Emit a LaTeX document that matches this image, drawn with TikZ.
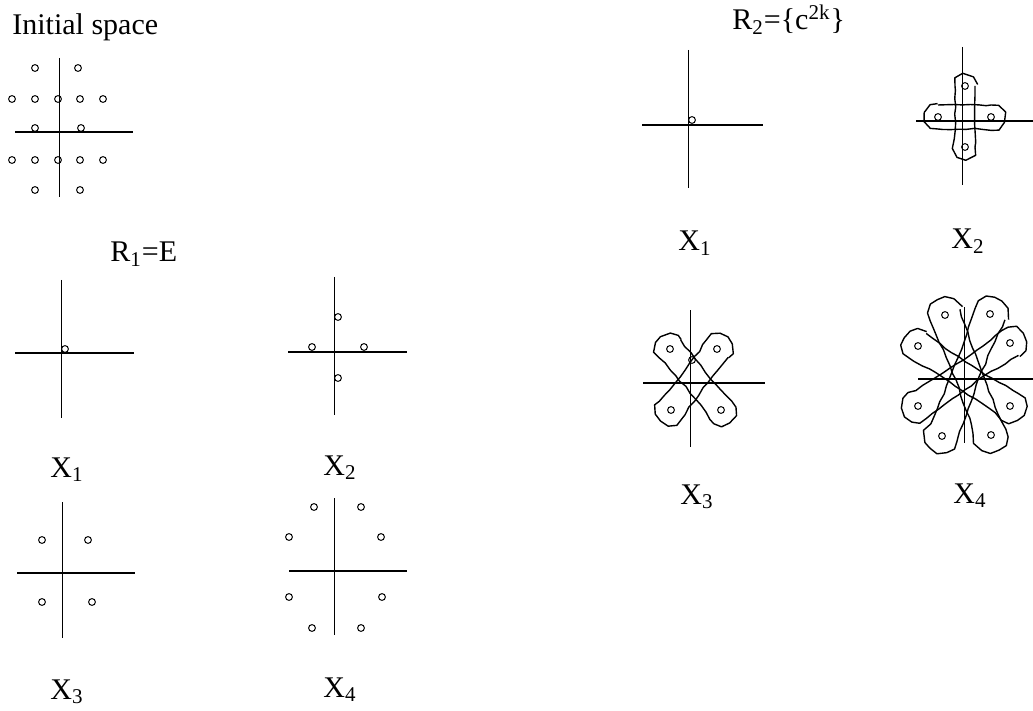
\documentclass[tikz,border=0pt]{standalone}
\usepackage{fontspec}
\setmainfont{Liberation Serif}
\usetikzlibrary{calc,decorations.pathmorphing}

% loop drawn round two orbit points: ends of radius #3, waist #4
\newcommand\orbitloop[4]{%
  \pgfmathsetlengthmacro\loopc{(4*#4-#3)/3}
  \coordinate (q1) at ($(#1)!1/3!(#2)$);
  \coordinate (q2) at ($(#1)!2/3!(#2)$);
  \coordinate (u1) at ($(#1)!#3!90:(#2)$);
  \coordinate (v1) at ($(#1)!#3!-90:(#2)$);
  \coordinate (u2) at ($(#2)!#3!-90:(#1)$);
  \coordinate (v2) at ($(#2)!#3!90:(#1)$);
  \draw[loopline] (u1)
    .. controls ($(q1)!\loopc!90:(#2)$) and ($(q2)!\loopc!90:(#2)$) .. (u2)
    .. controls ($(u2)!-1.33*#3!(u1)$) and ($(v2)!-1.33*#3!(v1)$) .. (v2)
    .. controls ($(q2)!\loopc!-90:(#2)$) and ($(q1)!\loopc!-90:(#2)$) .. (v1)
    .. controls ($(v1)!-1.33*#3!(v2)$) and ($(u1)!-1.33*#3!(u2)$) .. (u1);}

\begin{document}
\pgfmathsetseed{11}
\begin{tikzpicture}[x=0.5pt,y=-0.5pt,
    haxis/.style={line width=0.75pt},
    vaxis/.style={line width=0.5pt},
    dot/.style={circle,draw,line width=0.5pt,inner sep=0pt,minimum size=3.4pt},
    loopline/.style={line width=0.7pt,line join=round,decorate,
      decoration={random steps,segment length=4pt,amplitude=0.45pt}},
    lbl/.style={font=\fontsize{15}{18}\selectfont,inner sep=0pt}
  ]
  \useasboundingbox (0,0) rectangle (1033,711);

  % initial space
  \node[lbl,anchor=base west] (init) at (12,35) {Initial space};
  \draw[haxis] (15,132) -- (133,132);
  \draw[vaxis] (59,58) -- (59,197);
  \foreach \p [count=\i] in {(35,68),(78,68),(12,99),(35,99),(58,99),(80,99),(103,99),
      (35,128),(81,128),(12,160),(35,160),(58,160),(80,160),(103,160),(35,190),(80,190)}
    \node[dot] (s\i) at \p {};

  % R1 = E
  \node[lbl,anchor=base west] (r1) at (110,262) {R\textsubscript{1}=E};
  \draw[haxis] (15,353) -- (134,353);
  \draw[vaxis] (61,280) -- (61,418);
  \node[dot] (a1-1) at (65,349) {};
  \node[lbl,anchor=base] (a1lbl) at (67,477) {X\textsubscript{1}};

  \draw[haxis] (288,352) -- (407,352);
  \draw[vaxis] (334,277) -- (334,415);
  \foreach \p [count=\i] in {(338,317),(312,347),(364,347),(338,378)}
    \node[dot] (a2-\i) at \p {};
  \node[lbl,anchor=base] (a2lbl) at (340,475) {X\textsubscript{2}};

  \draw[haxis] (17,573) -- (135,573);
  \draw[vaxis] (62,502) -- (62,638);
  \foreach \p [count=\i] in {(42,540),(88,540),(42,602),(92,602)}
    \node[dot] (a3-\i) at \p {};
  \node[lbl,anchor=base] (a3lbl) at (67,699) {X\textsubscript{3}};

  \draw[haxis] (289,571) -- (407,571);
  \draw[vaxis] (334,498) -- (334,635);
  \foreach \p [count=\i] in {(314,507),(361,507),(289,537),(381,537),
      (289,597),(382,597),(312,628),(361,628)}
    \node[dot] (a4-\i) at \p {};
  \node[lbl,anchor=base] (a4lbl) at (340,697) {X\textsubscript{4}};

  % R2 = {c^2k}
  \node[lbl,anchor=base west] (r2) at (732,30) {R\textsubscript{2}=\{c\textsuperscript{2k}\}};
  \draw[haxis] (642,125) -- (763,125);
  \draw[vaxis] (688,50) -- (688,188);
  \node[dot] (b1-1) at (692,120) {};
  \node[lbl,anchor=base] (b1lbl) at (695,251) {X\textsubscript{1}};

  \draw[haxis] (916,121) -- (1033,121);
  \draw[vaxis] (962,47) -- (962,185);
  \foreach \p [count=\i] in {(965,86),(938,117),(991,117),(965,147)}
    \node[dot] (b2-\i) at \p {};
  \orbitloop{b2-1}{b2-4}{5pt}{5pt}
  \orbitloop{b2-2}{b2-3}{6pt}{6pt}
  \node[lbl,anchor=base] (b2lbl) at (968,249) {X\textsubscript{2}};

  \draw[haxis] (643,383) -- (765,383);
  \draw[vaxis] (690,310) -- (690,447);
  \foreach \p [count=\i] in {(670,349),(717,349),(671,410),(721,410),(692,360)}
    \node[dot] (b3-\i) at \p {};
  \orbitloop{b3-1}{b3-4}{7pt}{6.3pt}
  \orbitloop{b3-2}{b3-3}{7pt}{6.3pt}
  \node[lbl,anchor=base] (b3lbl) at (697,504) {X\textsubscript{3}};

  \draw[haxis] (918,379) -- (1033,379);
  \draw[vaxis] (964,307) -- (964,443);
  \foreach \p [count=\i] in {(945,315),(990,314),(918,346),(1010,343),
      (918,406),(1010,406),(942,436),(991,435)}
    \node[dot] (b4-\i) at \p {};
  \orbitloop{b4-1}{b4-8}{8pt}{6.8pt}
  \orbitloop{b4-2}{b4-7}{8pt}{6.8pt}
  \orbitloop{b4-3}{b4-6}{7.5pt}{6.5pt}
  \orbitloop{b4-4}{b4-5}{7.5pt}{6.5pt}
  \node[lbl,anchor=base] (b4lbl) at (970,503) {X\textsubscript{4}};
\end{tikzpicture}
\end{document}
